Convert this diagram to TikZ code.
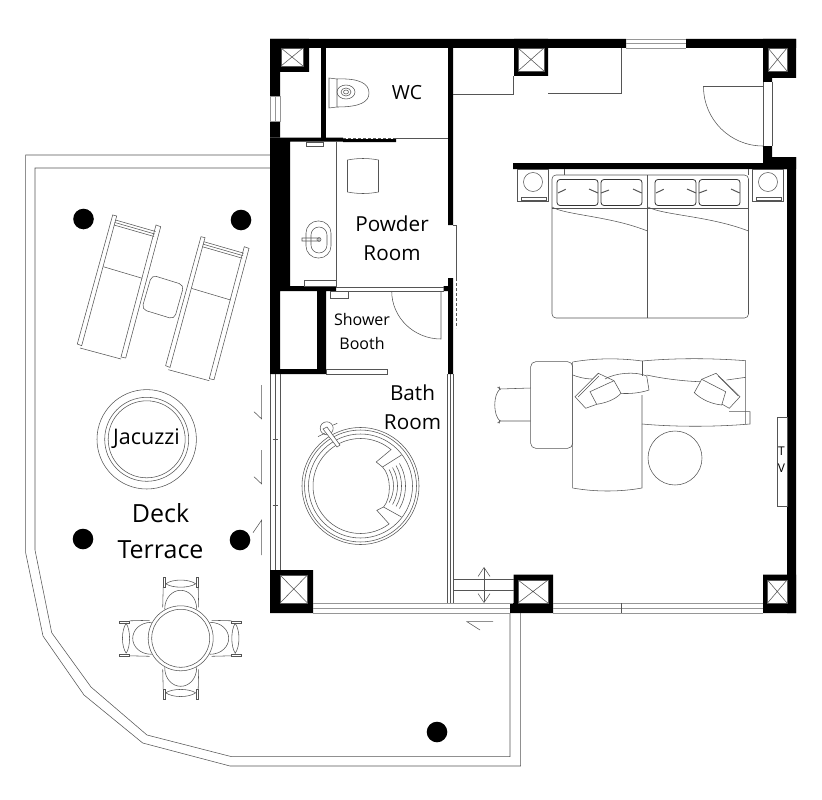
\documentclass[tikz,border=0pt]{standalone}
\usepackage{fontspec}
\usetikzlibrary{arrows.meta}
\setmainfont{Open Sans}
\definecolor{mline}{RGB}{85,85,85}
\definecolor{mglass}{RGB}{150,150,150}

\begin{document}
\begin{tikzpicture}[
    x=1pt, y=-1pt,
    wall/.style={fill=black, draw=none},
    thin_line/.style={draw=mline, line width=0.55pt},
    glass_line/.style={draw=mglass, line width=0.8pt},
    dark_line/.style={draw=black!80, line width=0.8pt},
    white_box/.style={thin_line, fill=white},
    post_dot/.style={fill=black, draw=none},
    label_big/.style={font=\fontsize{25}{36}\selectfont, align=center, inner sep=0pt},
    label_mid/.style={font=\fontsize{20.7}{29}\selectfont, align=center, inner sep=0pt},
    label_small/.style={font=\fontsize{16}{24}\selectfont, align=center, inner sep=0pt},
    ]
\useasboundingbox (0,0) rectangle (822,800);

% terrace edge
\draw[thin_line] (270,155) -- (25.7,155) -- (25.7,553) -- (43,636) -- (84,695) -- (142.7,743) -- (230,766) -- (520.7,766) -- (520.7,613);
\draw[thin_line] (270,168) -- (35,168) -- (35,550) -- (51.7,632.7) -- (91,687) -- (147,735) -- (231.7,756.7) -- (510,756.7) -- (510,613);
\draw[thin_line] (493,621.7) -- (467,621.7) -- (480,630);

% walls
\fill[wall] (270,39) rectangle (626,48) (686,39) rectangle (796,48);
\fill[wall] (270,39) rectangle (309,72) (514,39) rectangle (548,76) (763,39) rectangle (796,78);
\fill[wall] (763,78) rectangle (772,82) (763,146) rectangle (772,169) (763,157) rectangle (796,169);
\fill[wall] (270,72) rectangle (280,96) (270,121.5) rectangle (280,137.5);
\fill[wall] (270,137.5) rectangle (290,286) (270,137.5) rectangle (343,141.5) (343,139) rectangle (396,142);
\fill[wall] (321,48) rectangle (326,137.5);
\fill[wall] (448,48) rectangle (453,225) (448,278) rectangle (453,374) (443.5,286) rectangle (453,291);
\fill[wall] (270,286) rectangle (336,291) (270,291) rectangle (280,374) (317,291) rectangle (326,374) (270,369) rectangle (326,374);
\fill[wall] (513,163) rectangle (787,169) (787,157) rectangle (796,613);
\fill[wall] (270,570) rectangle (313,613) (513.5,574.5) rectangle (553,613) (510,603) rectangle (514,613) (763,574.5) rectangle (796,613);

\foreach \xa/\ya/\xb/\yb in {281/48/303/66, 518/48/544/71, 768/48/787/71, 280/575/307.5/603, 518/580/548/603, 767.5/580/787/603}{
    \draw[white_box] (\xa,\ya) rectangle (\xb,\yb);
    \draw[thin_line] (\xa,\ya) -- (\xb,\yb) (\xa,\yb) -- (\xb,\ya);
}

% windows and glazing
\draw[glass_line] (626,39) -- (686,39) (626,43.5) -- (686,43.5) (626,48) -- (686,48);
\draw[glass_line] (270,96) rectangle (280,121.5) (275,96) -- (275,121.5);
\draw[thin_line] (270,374) -- (270,570) (275,374) -- (275,570) (280,374) -- (280,570);
\draw[thin_line] (272.5,439) -- (277.5,439) (272.5,505) -- (277.5,505);
\draw[glass_line] (313,603) -- (513,603) (313,608) -- (510,608) (313,613) -- (510,613);
\draw[glass_line] (553,603) -- (763,603) (553,608) -- (763,608) (553,613) -- (763,613);
\draw[thin_line] (621.5,603) -- (621.5,613);
\draw[thin_line] (447,374) -- (447,603) (450,374) -- (450,603) (453,374) -- (453,603);
\draw[thin_line] (453,579) -- (513.5,579) (453,590.5) -- (513.5,590.5);
\draw[thin_line, {Straight Barb[length=9pt, width=12pt]}-{Straight Barb[length=9pt, width=12pt]}] (484,567) -- (484,603);
\draw[thin_line] (254,411.7) -- (261.7,419) -- (261.7,385);
\draw[thin_line] (254,476.7) -- (261.7,484) -- (261.7,450);
\draw[thin_line] (253,532.7) -- (261.7,520) -- (261.7,555);

% doors and partitions
\draw[thin_line] (763,82) -- (763,146) (772,82) -- (772,146);
\draw[thin_line] (763,86.5) -- (703.5,86.5) to[out=-90, in=180] (763,146);
\draw[thin_line] (391.7,291) to[out=-90, in=180] (441,339) -- (441,291);
\draw[thin_line] (336,287) -- (444,287) (336,291) -- (444,291);
\draw[thin_line] (336,141.5) -- (336,286);
\draw[thin_line, dashed, dash pattern=on 3pt off 2pt] (343,138) -- (396,138);
\draw[thin_line] (396,138) -- (448,138);
\draw[thin_line] (453,225) -- (456.7,225) -- (456.7,278);
\draw[thin_line, dash pattern=on 3pt off 2pt] (456.7,278) -- (456.7,328);
\draw[white_box] (326,369.5) rectangle (387,374);
\draw[thin_line] (453,94) -- (513,94) -- (513,76);
\draw[thin_line] (548,93) -- (621,93) -- (621,48);
\draw[thin_line] (777,417) rectangle (787,506);

% toilet
\draw[thin_line] (329,78) -- (337,79) -- (337,107) -- (329,108) -- cycle;
\draw[thin_line] (337,79) .. controls (360,78) and (369,84) .. (369,93) .. controls (369,102) and (360,107) .. (337,107);
\draw[thin_line] (346,92) circle[x radius=9, y radius=7] (346,92) circle[x radius=5, y radius=4] (346,92) circle[x radius=2.5, y radius=2];

% powder room
\draw[thin_line] (306,142) rectangle (323,146.5) (304,280) rectangle (336,286) (330,291) rectangle (348,298);
\draw[thin_line] (347.5,160) .. controls (358,158) and (368,158) .. (378.5,160) -- (378.5,192) .. controls (368,194) and (358,194) .. (347.5,192) -- cycle;
\draw[thin_line, rounded corners=12pt] (306,221) rectangle (331,258);
\draw[thin_line, rounded corners=8pt] (311,227) rectangle (327,253);
\draw[thin_line] (302,238) rectangle (319,241) (319,239.5) circle[radius=2];

% night tables
\foreach \xa in {517, 752}{
    \draw[thin_line] (\xa,169) rectangle (\xa+31,201);
    \draw[thin_line] (\xa+16,182) circle[radius=9.5];
    \draw[thin_line] (\xa+4.5,197) rectangle (\xa+29.5,200);
}

% bed
\draw[thin_line, rounded corners=4pt] (552,175) rectangle (748.5,318);
\draw[thin_line] (647.5,175) -- (647.5,318);
\draw[thin_line] (552,208) -- (748.5,208);
\draw[thin_line] (564,169) -- (564,175) (748.5,169) -- (748.5,175);
\foreach \xa in {0, 98}{
    \draw[dark_line, rounded corners=3pt] (\xa+557,179.5) rectangle (\xa+598,205.5);
    \draw[dark_line, rounded corners=3pt] (\xa+601,179.5) rectangle (\xa+642,205.5);
    \draw[thin_line, line width=1pt] (\xa+558,193) -- (\xa+565.7,189.3) (\xa+598,193) -- (\xa+589,189);
    \draw[thin_line, line width=1pt] (\xa+601,193) -- (\xa+609,190) (\xa+641.7,193) -- (\xa+633,189);
}
\draw[thin_line] (552,207) .. controls (565,215) and (610,216) .. (647.5,231);
\draw[thin_line] (648,207) .. controls (662,215) and (710,216) .. (748.5,231);

% sofa group
\draw[thin_line, rounded corners=5pt, fill=white] (530.7,361.7) rectangle (572.7,448.3);
\draw[thin_line] (530.7,388) -- (500,389) .. controls (493,395) and (493,415) .. (500,421) -- (530.7,421);
\draw[thin_line] (497.5,387) -- (500,389) -- (499,386.5) (497.5,423) -- (500,421) -- (499,423.5);
\draw[thin_line] (572.7,362) -- (572.7,488) .. controls (595,492) and (620,492) .. (642,488) -- (642,395);
\draw[thin_line] (572.7,362) .. controls (595,358) and (620,358) .. (642,361) .. controls (675,358) and (710,358) .. (745.7,360.7) -- (745.7,424);
\draw[thin_line] (642,361) -- (642,376);
\draw[thin_line] (642,424) .. controls (675,427) and (715,427) .. (750,424) -- (750,411.7) -- (729,411.7);
\draw[thin_line] (572.7,375) .. controls (578,377) and (585,379) .. (592,379);
\draw[thin_line] (646.7,375) .. controls (660,378) and (680,381) .. (700,381.7);
\draw[thin_line] (726.7,380) -- (745.7,377.3);
\draw[thin_line] (605,379) .. controls (615,373) and (635,371) .. (646.7,376) -- (649,390) .. controls (640,393) and (630,394) .. (620,393.3);
\draw[thin_line] (614,380.7) -- (598.3,373.3) -- (575,396.7) -- (585.7,408.3) -- (596.7,404.3);
\draw[thin_line] (599,376) -- (578,397);
\draw[thin_line, fill=white] (590,391.7) -- (614,380.7) -- (621,393.3) .. controls (615,400) and (605,403) .. (596.7,404.3) -- cycle;
\draw[thin_line] (701.7,379.3) -- (716,373.3) -- (740,396.7) -- (729.3,408.3) -- (721.7,404);
\draw[thin_line] (718.3,376) -- (738.3,396);
\draw[thin_line, fill=white] (701.7,379.3) -- (725.7,391.7) -- (721.7,405) .. controls (712,404) and (702,400) .. (694.3,392.7) -- cycle;
\draw[thin_line] (675,458) circle[radius=27];

% tub
\begin{scope}[shift={(360.5,486)}]
\draw[thin_line] (0,0) circle[radius=58.5] (0,0) circle[radius=56] (0,0) circle[radius=52];
\draw[thin_line] plot[smooth, samples=40, domain=53:310] ({47.5*cos(\x)},{47.5*sin(\x)}) -- (15.7,-24) -- (22,-19) .. controls (31,-10) and (31,12) .. (23,21) -- (16.3,24.3) -- cycle;
\draw[thin_line] (41,-31) -- (22,-19) (41,31) -- (23,21);
\foreach \ra in {33, 37, 41, 45}{
    \draw[thin_line] plot[smooth, samples=9, domain=-30:30] ({\ra*cos(\x)},{\ra*sin(\x)});
}
\end{scope}
\draw[thin_line] (326.7,428.3) circle[radius=6.5];
\draw[thin_line, fill=white] (323,429) -- (337,447) -- (340,445) -- (327,427) -- cycle;
\draw[thin_line] (318,436.7) -- (325,433) (333.3,425) -- (337.3,423.3);

% loungers
\foreach \xa/\ya in {0/0, 88.3/21.7}{
\begin{scope}[shift={(\xa,\ya)}]
    \draw[thin_line] (112.7,215) -- (77.3,344) -- (81.7,345.7) -- (116.7,216) -- cycle;
    \draw[thin_line] (156,225) -- (121,357) -- (125.7,358) -- (160.7,226.7) -- cycle;
    \draw[thin_line] (80,348) -- (121,359) (103.3,266.7) -- (142.3,278.3);
    \draw[thin_line] (115.5,220) -- (155.5,231.5) (114.8,222.5) -- (154.8,234) (114,225) -- (154,236.5);
\end{scope}
}
\draw[thin_line, rounded corners=5pt] (151.7,275) -- (184,285) -- (174.3,319.3) -- (141.7,309.3) -- cycle;

% jacuzzi
\draw[thin_line] (146.7,439.3) circle[radius=49.7] (146.7,439.3) circle[radius=42] (146.7,439.3) circle[radius=38.5];

% deck table
\begin{scope}[shift={(180.7,638.3)}]
\foreach \a in {0, 90, 180, 270}{
\begin{scope}[rotate=\a]
    \draw[thin_line] (-16,-29) .. controls (-16,-41) and (-8,-48) .. (0,-48) .. controls (8,-48) and (16,-41) .. (16,-29);
    \draw[thin_line] (-15,-54.5) .. controls (-8,-50) and (8,-50) .. (15,-54.5) .. controls (8,-59.5) and (-8,-59.5) .. (-15,-54.5);
    \draw[thin_line] (-17.5,-61) rectangle (-15.5,-51) (15.5,-61) rectangle (17.5,-51);
    \draw[thin_line] (-17.5,-51) -- (-18,-31) (17.5,-51) -- (18,-31);
\end{scope}
}
\draw[thin_line, fill=white] (0,0) circle[radius=32.5];
\draw[thin_line] (0,0) circle[radius=29];
\end{scope}

% posts
\foreach \xa/\ya in {83.5/219, 241/220, 83/539, 240/540, 437/732}{
    \fill[post_dot] (\xa,\ya) circle[radius=10.3];
}

% labels
\node[inner sep=0pt, font=\fontsize{19.5}{24}\selectfont] (wc_label) at (407,93) {WC};
\node[label_mid] (powder_label) at (392,238.5) {Powder\\Room};
\node[label_small] (shower_label) at (362,331) {Shower\\Booth};
\node[label_mid] (bath_label) at (412.5,407.5) {Bath\\Room};
\node[inner sep=0pt, font=\fontsize{21.5}{24}\selectfont] (jacuzzi_label) at (146.5,439) {Jacuzzi};
\node[label_big] (deck_label) at (160.5,531) {Deck\\Terrace};
\node[inner sep=0pt, align=center, font=\fontsize{12}{17}\selectfont] (tv_label) at (781.5,460) {T\\V};
\end{tikzpicture}
\end{document}
